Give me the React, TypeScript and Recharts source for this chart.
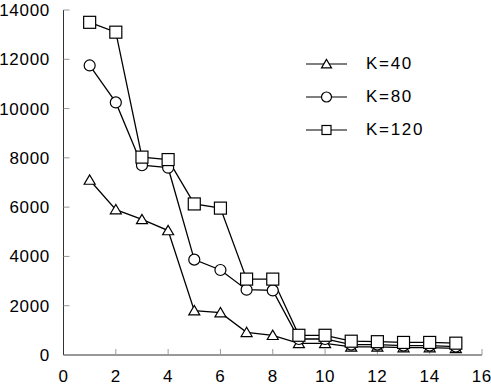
import React from 'react';
import { LineChart, Line, XAxis, YAxis, Legend } from 'recharts';

const xs = [1, 2, 3, 4, 5, 6, 7, 8, 9, 10, 11, 12, 13, 14, 15];
const k40 = [7100, 5900, 5500, 5050, 1800, 1720, 920, 800, 470, 470, 330, 330, 300, 300, 270];
const k80 = [11750, 10250, 7700, 7600, 3870, 3450, 2650, 2620, 650, 650, 420, 420, 380, 380, 340];
const k120 = [13500, 13100, 8030, 7930, 6130, 5960, 3080, 3080, 800, 800, 560, 540, 510, 510, 480];
const xTicks = [0, 2, 4, 6, 8, 10, 12, 14, 16];
const yTicks = [0, 2000, 4000, 6000, 8000, 10000, 12000, 14000];

const data = xs.map((x, i) => ({ x, k40: k40[i], k80: k80[i], k120: k120[i] }));

const FONT = '"Liberation Sans", Arial, sans-serif';

type Shape = 'triangle' | 'circle' | 'square';

const series: { key: string; name: string; shape: Shape }[] = [
    { key: 'k40', name: 'K=40', shape: 'triangle' },
    { key: 'k80', name: 'K=80', shape: 'circle' },
    { key: 'k120', name: 'K=120', shape: 'square' },
];

function marker(shape: Shape, cx: number, cy: number, r: number, key?: any) {
    const common = { fill: '#fff', stroke: '#000', strokeWidth: 1.2 };
    if (shape === 'circle') return <circle key={key} cx={cx} cy={cy} r={r} {...common} />;
    if (shape === 'square')
        return <rect key={key} x={cx - r} y={cy - r} width={2 * r} height={2 * r} {...common} />;
    const h = r * 1.7;
    return (
        <polygon
            key={key}
            points={`${cx},${cy - h * 0.55} ${cx - r},${cy + h * 0.45} ${cx + r},${cy + h * 0.45}`}
            {...common}
        />
    );
}

const makeDot = (shape: Shape) => (props: any) => {
    const { cx, cy, index } = props;
    if (cx == null || cy == null) return <g key={index} />;
    return marker(shape, cx, cy, shape === 'square' ? 6 : 5.5, index);
};

const renderLegend = () => (
    <div style={{ fontFamily: FONT, fontSize: 17, letterSpacing: 1.7, color: '#000' }}>
        {series.map(s => (
            <div key={s.key} style={{ display: 'flex', alignItems: 'center', height: 33 }}>
                <svg width={42} height={14} style={{ marginRight: 18 }}>
                    <line x1={0} y1={7} x2={41} y2={7} stroke="#000" strokeWidth={1.2} />
                    {marker(s.shape, 20.5, 7, s.shape === 'square' ? 4.5 : 5)}
                </svg>
                <span>{s.name}</span>
            </div>
        ))}
    </div>
);

export default function App() {
    const tickStyle = { fill: '#000', fontSize: 17, fontFamily: FONT, letterSpacing: 0.7 };
    return (
        <div style={{ position: 'absolute', left: 0, top: 0, width: 491, height: 385, background: '#fff' }}>
            <LineChart width={491} height={385} data={data} margin={{ top: 10, right: 9, left: 0, bottom: 0 }}>
                <XAxis
                    dataKey="x"
                    type="number"
                    domain={[0, 16]}
                    ticks={xTicks}
                    height={30}
                    tickSize={-6}
                    tickMargin={21}
                    tick={tickStyle}
                    axisLine={{ stroke: '#333' }}
                    tickLine={{ stroke: '#999' }}
                />
                <XAxis
                    xAxisId="top"
                    orientation="top"
                    dataKey="x"
                    type="number"
                    domain={[0, 16]}
                    ticks={xTicks}
                    height={0}
                    tickSize={-6}
                    tick={false}
                    axisLine={{ stroke: '#333' }}
                    tickLine={{ stroke: '#999' }}
                />
                <YAxis
                    type="number"
                    domain={[0, 14000]}
                    ticks={yTicks}
                    width={63.5}
                    tickSize={-6}
                    tickMargin={19.5}
                    tick={tickStyle}
                    axisLine={{ stroke: '#333' }}
                    tickLine={{ stroke: '#999' }}
                />
                <YAxis
                    yAxisId="right"
                    orientation="right"
                    type="number"
                    domain={[0, 14000]}
                    ticks={yTicks}
                    width={0}
                    tickSize={-6}
                    tick={false}
                    axisLine={{ stroke: '#333' }}
                    tickLine={{ stroke: '#999' }}
                />
                <Legend
                    content={renderLegend}
                    layout="horizontal"
                    verticalAlign="middle"
                    align="center"
                    wrapperStyle={{ left: 306, top: 47, width: 140 }}
                />
                {series.map(s => (
                    <Line
                        key={s.key}
                        dataKey={s.key}
                        name={s.name}
                        stroke="#000"
                        strokeWidth={1.3}
                        dot={makeDot(s.shape)}
                        activeDot={false}
                        isAnimationActive={false}
                    />
                ))}
            </LineChart>
        </div>
    );
}
